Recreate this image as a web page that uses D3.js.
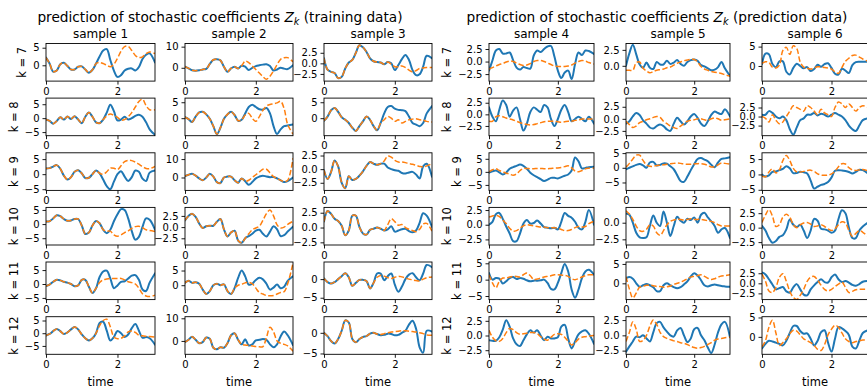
<!DOCTYPE html>
<html><head><meta charset="utf-8">
<script src="https://cdn.jsdelivr.net/npm/d3@7"></script>
<style>
body{margin:0;background:#fff}
svg{display:block}
text{font-family:"DejaVu Sans",sans-serif;fill:#000}
</style>
</head><body>
<svg id="chart" width="867" height="388"></svg>
<script>
// ---------------- DATA ----------------
const time = [0,0.1,0.2,0.3,0.4,0.5,0.6,0.7,0.8,0.9,1.0,1.1,1.2,1.3,1.4,1.5,1.6,1.7,1.8,1.9,2.0,2.1,2.2,2.3,2.4,2.5,2.6,2.7,2.8,2.9,3.05];
const timeLimits = [0, 3.05];
const xTicks = [0, 2];
const sampleNames = ["sample 1","sample 2","sample 3","sample 4","sample 5","sample 6"];
const kValues = [7,8,9,10,11,12];
const groupTitles = ["training data","prediction data"];

// true (blue) and predicted (orange) coefficient series, per k, samples 1..6
const blueK7 = [
 [2.2,0.5,-1.8,-1.5,0.3,0.7,-0.2,-1.2,-1.2,-0.4,-0.3,-1.2,-2.1,-1.3,0.5,2.5,4.2,4.6,1.5,-1.5,-3.3,-2.8,-1.5,-1.0,-0.9,-1.5,-0.5,1.8,3.0,3.4,0.8],
 [0.5,-0.3,-1.2,-1.4,-1.2,-0.8,-0.5,1.8,3.8,4.0,3.5,0.5,-1.9,-0.3,0.5,-0.3,1.0,0.5,-1.0,0.0,0.8,1.2,1.5,1.7,0.8,-1.3,-0.8,0.0,-0.4,-0.6,1.2],
 [1.2,-1.5,-2.0,-2.3,-3.5,-3.2,-1.2,0.2,0.8,2.5,4.3,3.8,2.7,1.2,0.5,0.3,0.2,-0.2,0.3,0.0,-1.6,-0.4,1.0,2.0,0.8,-1.6,-2.8,-2.6,-0.8,1.8,1.2],
 [-1.8,0.2,2.2,2.5,1.6,1.6,1.8,0.3,-1.2,-1.6,-1.1,-1.3,-1.4,1.2,2.2,1.9,2.5,3.0,3.1,1.0,-1.8,-3.3,-2.2,-1.8,-3.5,-0.5,1.8,1.3,2.2,2.1,1.5],
 [0.0,2.0,3.3,1.8,0.2,-0.3,0.5,-0.3,-0.5,0.6,0.2,0.2,0.8,0.3,0.5,0.9,0.3,0.0,0.6,0.9,1.0,0.8,0.1,-0.1,-0.4,-0.7,-0.6,-0.2,0.6,-0.4,-1.6],
 [0.5,3.2,3.0,0.5,-0.3,1.2,1.2,-1.5,-2.2,-0.5,0.6,0.0,-0.6,-0.3,-1.3,-0.8,0.3,-0.2,0.5,0.7,-0.5,-2.0,-2.2,-0.7,-1.2,-1.8,0.2,1.0,1.1,1.1,1.1]
];
const orangeK7 = [
 [2.2,0.5,-1.8,-1.5,0.3,0.7,-0.2,-1.2,-1.2,-0.4,-0.3,-1.2,-2.1,-1.3,0.5,0.8,0.5,0.0,-0.4,0.3,2.0,4.0,5.3,5.4,4.2,2.8,2.2,2.4,3.3,3.8,3.3],
 [0.5,-0.3,-1.2,-1.4,-1.2,-0.8,-0.5,1.8,3.8,4.0,3.5,0.5,-1.9,-0.3,0.5,-0.3,1.0,3.2,2.5,0.8,-0.8,-2.5,-4.2,-5.4,-4.0,-1.5,1.5,4.0,4.8,4.8,2.9],
 [1.2,-1.5,-2.0,-2.3,-3.5,-3.2,-1.2,0.2,0.8,2.5,4.3,3.8,2.7,1.2,0.5,0.3,0.2,-0.2,0.3,-0.2,-0.8,-0.8,-0.6,-1.0,-1.6,-2.0,-1.7,-1.2,-1.1,-1.0,-1.0],
 [-1.5,-1.2,-0.9,-0.6,-0.4,-0.1,0.1,0.0,-0.3,-0.6,-0.8,-0.7,-0.4,0.0,0.2,0.2,0.0,-0.3,-0.6,-0.9,-1.0,-1.0,-1.0,-0.9,-0.7,-0.3,0.0,0.2,0.1,-0.2,-0.5],
 [-0.7,-0.7,-0.7,0.5,0.6,-0.4,-0.8,-1.1,-0.9,-0.7,-0.6,-0.5,-0.3,-0.2,0.1,0.4,0.6,0.8,0.9,1.0,1.0,0.6,-0.1,-0.5,-0.7,-0.9,-1.0,-1.1,-1.2,-1.4,-1.6],
 [0.7,1.1,0.9,-0.3,-0.5,0.2,4.0,4.8,3.0,5.2,4.5,1.0,-0.3,-0.6,-0.8,-0.5,-0.2,-0.2,-0.4,-0.5,-0.8,-1.5,-1.9,-0.4,1.2,2.0,2.7,2.8,2.3,1.8,1.2]
];
const blueK8 = [
 [-0.5,-1.0,-2.0,-1.0,0.3,-0.5,0.6,-0.3,0.7,-0.5,-1.8,0.5,2.0,0.5,-1.5,-1.8,-0.5,2.0,4.8,2.5,-0.8,-0.5,0.5,-0.5,0.0,0.8,1.2,0.5,-1.5,-4.0,-6.0],
 [0.3,-0.3,-1.2,0.5,1.8,2.0,1.2,-0.2,-2.5,-5.0,-3.0,-0.2,1.2,2.0,1.0,-0.8,-0.5,1.5,3.5,4.2,3.5,2.8,2.7,3.2,1.5,-2.5,-5.0,-3.5,-2.5,-2.3,-2.0],
 [-0.8,0.5,2.5,3.2,2.0,0.3,-0.5,-1.5,-3.0,-4.0,-2.5,-1.0,0.5,-0.5,-2.5,-3.8,-1.5,1.5,3.5,3.8,3.0,2.6,2.5,2.2,0.5,-1.5,-2.0,-2.5,-1.5,1.5,3.8],
 [1.5,-0.5,-1.5,1.0,3.0,2.0,-0.5,0.8,1.5,-1.0,-3.5,-2.0,0.5,1.5,1.0,0.5,2.0,1.5,-1.0,-2.5,-1.0,1.0,2.0,0.5,-1.5,-1.0,-0.5,-1.0,-1.5,-0.5,-2.0],
 [-1.0,-0.5,0.5,1.2,0.8,-0.3,-1.0,-1.8,-2.0,-1.5,-1.2,-1.5,-2.2,-2.5,-1.0,0.2,-0.5,-1.2,-0.5,0.5,1.0,0.2,-1.0,-1.5,-0.5,0.8,1.5,1.2,1.0,2.0,0.5],
 [0.5,0.5,1.5,1.0,0.0,-0.5,0.0,-1.0,-3.5,-5.0,-3.0,-1.0,-0.5,0.5,0.5,1.0,0.3,0.8,0.5,0.0,0.5,1.0,0.5,0.0,-1.0,-2.5,-3.5,-4.0,-2.5,-1.0,-0.5]
];
const orangeK8 = [
 [-0.5,-1.0,-2.0,-1.0,0.3,-0.5,0.6,-0.3,0.7,-0.5,-1.8,0.5,2.0,0.5,-1.5,-1.8,-0.5,0.8,1.5,1.0,0.3,-0.7,-0.5,0.5,2.0,4.0,6.0,6.8,4.5,3.0,3.0],
 [0.3,-0.3,-1.2,0.5,1.8,2.0,1.2,-0.2,-2.5,-5.0,-3.0,-0.2,1.2,2.0,1.0,-0.8,-0.5,1.0,1.5,0.0,-1.0,0.5,2.5,3.8,4.3,4.5,4.8,5.3,3.0,-2.0,-5.0],
 [-0.8,0.5,2.5,3.2,2.0,0.3,-0.5,-1.5,-3.0,-4.0,-2.5,-1.0,0.5,-0.5,-2.5,-3.8,-1.5,-0.5,0.5,0.0,-1.0,-0.5,-1.5,-1.0,-0.5,-0.3,-0.2,-0.5,-0.6,-1.0,-1.2],
 [-1.5,-1.5,-0.5,-0.3,-0.5,-0.8,-1.0,-1.2,-1.5,-1.8,-2.0,-2.2,-2.3,-2.2,-2.0,-1.8,-1.6,-1.5,-1.5,-1.5,-1.6,-1.7,-1.6,-1.5,-1.5,-1.3,-1.2,-1.0,-1.0,-1.0,-1.0],
 [-0.5,-1.2,-1.8,-1.5,-0.8,-0.5,-0.2,0.0,0.3,0.5,0.3,-0.5,-1.0,-1.5,-1.8,-2.0,-1.5,-1.0,-0.5,-0.3,-0.2,0.0,0.0,-0.2,-0.3,0.0,0.2,0.0,-0.3,-0.2,0.0],
 [0.0,-0.5,-1.5,0.5,-1.0,-2.0,-1.5,0.0,1.5,3.0,2.5,2.0,1.5,3.0,2.5,1.5,0.5,2.0,1.0,0.5,0.0,2.5,4.0,3.5,2.5,3.5,2.5,1.5,2.5,3.0,2.5]
];
const blueK9 = [
 [1.9,2.0,2.5,3.0,1.8,-0.5,-1.8,-1.0,0.8,1.3,0.3,-1.3,-1.2,0.0,1.2,0.3,-1.8,-4.0,-5.0,-2.5,0.0,1.0,-0.8,-2.3,-1.0,1.2,0.8,-1.5,-2.3,0.5,1.2],
 [0.8,1.5,2.0,1.0,-0.5,-1.5,0.0,2.0,0.5,-2.5,-3.0,0.0,0.5,0.5,-1.5,-2.8,-0.5,-2.0,-4.0,-2.5,-0.5,0.5,1.0,0.5,0.2,0.3,-0.5,-1.5,-2.5,-2.0,0.0],
 [-0.2,-1.8,-0.5,1.6,0.5,-2.5,-3.5,-1.3,-2.0,-1.8,-1.2,-0.4,0.6,1.3,1.0,0.8,1.0,1.0,0.3,0.0,-0.2,-0.3,-0.7,-0.8,-0.6,-0.5,-1.0,-1.7,0.5,1.0,-1.4],
 [-0.3,0.2,0.5,-0.2,-1.0,-0.3,1.2,1.8,2.3,2.8,2.3,1.2,-0.3,-1.3,-2.0,-2.8,-3.5,-3.0,-2.3,-2.3,-2.5,-2.0,-1.5,-1.0,0.5,5.5,4.0,1.3,1.5,1.8,2.0],
 [-0.5,0.0,0.5,1.0,1.3,0.8,0.0,1.8,2.0,0.8,1.0,1.5,1.4,0.5,-0.5,-2.5,-4.5,-4.8,-3.0,-0.8,1.2,3.0,3.3,2.8,2.2,1.0,0.2,1.8,3.0,3.2,3.6],
 [0.0,-0.7,-0.3,0.8,1.0,1.4,1.8,2.7,2.0,0.4,0.5,0.9,0.7,0.3,-2.0,-4.6,-4.0,-3.4,-3.1,-2.5,-1.0,1.2,1.4,1.3,1.1,0.8,0.3,0.8,1.5,1.4,0.3]
];
const orangeK9 = [
 [1.9,2.0,2.5,3.0,1.8,-0.5,-1.8,-1.0,0.8,1.3,0.3,-1.3,-1.2,0.0,1.2,0.3,0.0,0.8,2.0,2.0,1.5,2.8,4.2,4.6,4.5,4.0,3.3,2.5,1.9,1.8,2.6],
 [0.8,1.5,2.0,1.0,-0.5,-1.5,0.0,2.0,0.5,-2.5,-3.0,0.0,0.5,0.5,-1.5,-2.8,-0.5,-2.0,-1.5,0.0,1.5,3.0,4.5,4.5,2.5,0.5,-0.5,-1.5,-2.2,-1.5,10.5],
 [-0.2,-1.8,-0.5,1.6,0.5,-2.5,-3.5,-1.3,-2.0,-1.8,-1.2,-0.4,0.6,1.3,1.0,0.8,1.0,1.5,2.4,2.2,1.6,1.3,1.3,1.2,1.0,0.9,0.7,0.5,0.4,0.6,1.0],
 [0.0,0.8,1.2,0.5,0.0,-0.5,-0.8,-1.3,-0.8,0.5,1.3,1.3,1.2,1.2,1.3,1.3,1.2,1.2,1.3,1.4,1.5,1.7,2.0,2.3,1.5,0.3,0.0,0.5,1.2,1.4,1.5],
 [0.2,1.5,3.0,4.3,4.3,2.5,1.0,0.5,0.5,0.8,0.9,1.0,1.2,1.4,1.5,1.6,1.5,1.3,1.2,1.2,1.3,1.4,1.4,1.2,0.8,0.3,0.4,1.0,1.6,1.5,1.2],
 [-0.5,-0.8,0.8,1.8,0.5,1.5,4.5,6.2,4.5,2.0,0.8,0.8,1.0,1.3,1.4,1.0,0.2,-0.2,-0.3,-0.2,0.2,1.0,2.5,3.5,3.4,2.2,1.5,1.3,1.5,1.6,1.2]
];
const blueK10 = [
 [0.9,1.0,2.0,3.1,2.8,1.8,1.2,1.3,1.8,1.8,-0.5,-3.5,-3.0,-0.5,1.1,0.3,-2.0,-3.2,-2.0,1.0,3.5,5.3,5.0,2.0,-2.5,-5.5,-4.5,-1.0,2.0,1.5,-2.0],
 [1.5,2.5,3.0,2.3,0.8,-0.2,0.2,0.3,0.3,1.2,1.8,-0.5,-2.1,-1.2,-0.8,-3.0,-3.5,-2.5,-2.0,-1.5,-0.8,-0.6,-1.5,-2.1,-1.0,0.2,-0.5,-2.0,-1.8,-1.0,0.1],
 [1.0,2.8,2.3,1.5,1.1,0.3,-1.3,-0.5,2.0,2.0,0.1,-1.0,-1.2,-0.4,-0.2,0.0,-0.2,-0.5,-0.3,0.2,-0.7,-0.5,-0.3,-0.2,-0.6,-0.8,-0.5,0.8,2.4,2.0,0.1],
 [0.0,0.5,1.8,2.0,1.0,-0.3,-1.5,-2.8,-2.8,-1.5,0.2,0.8,0.2,0.3,0.7,0.2,-0.4,-0.5,-0.6,-0.5,-0.8,0.5,2.0,1.5,1.2,0.5,-0.5,-0.8,0.5,2.5,0.0],
 [1.4,1.2,0.0,-1.5,-2.2,-2.3,-2.2,-0.5,1.1,0.0,-0.5,1.7,0.0,-2.0,-0.5,0.9,0.3,0.0,0.6,0.4,0.8,0.0,1.2,1.5,0.8,0.2,-0.5,-1.5,-1.0,-0.8,-2.3],
 [0.3,-0.5,-1.8,-2.6,-2.3,-1.6,-1.3,-0.3,1.4,0.5,0.1,0.5,-0.5,-1.8,-0.5,1.5,1.2,-0.2,-0.3,-0.5,-0.9,-0.5,1.5,3.0,2.5,0.0,-1.8,-1.8,-0.5,0.2,0.9]
];
const orangeK10 = [
 [0.9,1.0,2.0,3.1,2.8,1.8,1.2,1.3,1.8,1.8,-0.5,-3.5,-3.0,-0.5,1.1,0.3,-2.0,-2.5,-2.5,-3.8,-4.3,-3.8,-3.0,-2.4,-1.5,-0.9,-0.8,-1.3,-2.0,-2.3,-2.6],
 [1.5,2.5,3.0,2.3,0.8,-0.2,0.2,0.3,0.3,1.2,1.8,-0.5,-2.1,-1.2,-0.8,-3.0,-3.5,-2.5,-1.5,-0.6,-0.2,0.2,1.5,3.0,3.8,2.5,0.5,-0.2,0.0,0.6,1.3],
 [1.0,2.8,2.3,1.5,1.1,0.3,-1.3,-0.5,2.0,2.0,0.1,-1.0,-1.2,-0.4,-0.2,0.0,-0.2,-0.5,0.5,1.5,1.0,0.4,0.5,0.0,-0.3,-0.5,-0.7,-0.3,0.6,0.7,-0.6],
 [1.3,1.5,1.6,1.4,0.8,0.2,-0.6,-1.1,-1.0,-0.6,-0.2,0.0,-0.1,-0.2,-0.3,-0.4,-0.4,-0.5,-0.5,-0.5,-0.6,-0.8,-1.0,-1.0,-0.8,-0.5,-0.3,-0.4,-0.3,0.2,0.6],
 [1.8,1.3,0.5,-0.5,-1.2,-1.3,-1.0,-0.3,-0.5,-1.5,-1.9,-1.2,-0.3,0.2,0.4,0.5,0.5,0.4,0.5,0.6,0.5,0.5,0.5,0.4,0.3,0.2,0.0,-0.3,-0.5,-0.5,-0.5],
 [0.9,2.2,3.1,2.0,0.2,0.5,1.8,2.3,1.8,0.5,0.0,0.5,0.8,0.9,0.6,0.2,0.3,0.5,0.2,-0.2,-0.5,-0.2,0.5,1.0,0.8,-0.5,-1.5,-1.0,-0.5,-0.8,-1.5]
];
const blueK11 = [
 [-0.7,-0.2,0.8,1.5,1.3,0.8,0.5,0.0,-0.8,-0.5,1.5,1.5,-1.0,-3.2,-1.5,2.5,4.5,4.8,2.0,-1.5,-0.5,0.8,1.0,2.0,3.0,3.2,1.5,-2.0,-2.5,0.5,3.8],
 [0.8,1.5,0.8,1.0,0.5,-1.5,-3.0,-2.0,0.0,0.5,0.0,0.3,-2.0,-3.0,-1.0,2.5,5.0,3.0,0.2,0.5,1.8,2.5,2.0,0.5,-1.5,-0.8,0.2,-1.0,-0.5,1.5,3.0],
 [0.2,-0.8,-1.2,-0.8,0.0,0.8,1.6,0.5,-1.8,-1.0,-0.2,-0.2,-0.5,-2.5,-1.0,1.5,1.5,-0.3,0.8,1.5,-1.5,-3.4,-2.0,0.0,1.2,1.6,0.5,-0.3,1.5,3.8,3.2],
 [2.0,0.0,0.5,0.3,-1.2,-0.5,0.5,0.8,0.2,0.5,0.3,-0.2,-0.5,-0.3,-0.3,-0.2,0.0,-1.0,-2.8,-3.0,-1.0,2.0,4.8,2.5,-3.0,-5.5,-3.0,0.5,2.5,3.0,1.5],
 [1.3,1.6,1.2,0.0,-0.9,-0.5,-0.2,-0.5,-1.0,-2.0,-2.0,-0.5,0.0,-0.5,-1.0,-1.3,-1.0,-0.3,0.5,1.8,2.6,2.0,0.8,-0.5,-0.8,-0.5,-0.3,-0.5,-0.7,-0.8,-0.9],
 [2.7,2.2,1.0,-0.3,-1.5,-1.2,-0.9,-2.0,-2.3,-1.0,-0.2,-1.5,-2.8,-3.0,-1.5,-0.5,0.3,1.0,0.3,0.2,1.5,2.2,1.0,0.3,0.6,0.2,-0.4,-0.6,-0.2,0.4,0.6]
];
const orangeK11 = [
 [-0.7,-0.2,0.8,1.5,1.3,0.8,0.5,0.0,-0.8,-0.5,1.5,1.5,-1.0,-3.2,-1.5,0.5,1.5,1.8,2.0,2.0,2.0,2.0,1.5,0.8,0.5,0.0,-1.5,-3.5,-4.3,-4.5,-4.0],
 [0.8,1.5,0.8,1.0,0.5,-1.5,-3.0,-2.0,0.0,0.5,0.0,0.3,-2.0,-3.0,-1.0,0.0,0.3,0.8,1.0,0.5,-1.0,-2.5,-3.0,-3.5,-3.6,-3.5,-3.0,-2.5,-2.2,0.5,7.5],
 [0.2,-0.8,-1.2,-0.8,0.0,0.8,1.6,0.5,-1.8,-1.0,-0.2,-0.2,-0.5,-2.5,-1.0,0.5,1.0,0.8,0.4,0.2,0.5,0.8,0.6,0.3,0.0,-0.2,-0.4,-0.5,0.0,0.4,0.6],
 [1.5,-1.0,-2.5,-0.5,0.5,0.5,0.8,1.0,1.0,0.8,1.5,2.0,1.2,0.0,0.2,0.5,0.8,1.0,1.2,1.5,1.5,1.4,1.3,1.0,0.3,0.0,0.3,0.8,1.2,1.5,1.5],
 [1.7,-1.5,-3.8,-2.5,-1.0,-0.8,-0.5,-0.5,-0.6,-0.8,-0.8,-1.0,-0.9,-0.7,-0.3,0.0,0.3,0.7,1.2,1.6,1.8,2.0,2.2,1.8,1.3,1.0,1.2,1.6,1.9,2.0,2.2],
 [2.3,0.5,-1.9,-2.3,-1.0,1.5,2.4,0.5,-2.0,-3.5,-4.0,-3.0,-1.5,0.5,1.5,1.7,0.8,-0.5,-1.5,-1.9,-1.5,-0.8,-0.2,0.3,-1.0,-2.3,-2.0,-1.6,-1.5,-1.5,-1.5]
];
const blueK12 = [
 [-0.9,-0.3,0.8,1.7,0.8,-0.3,0.3,1.5,2.4,1.5,-0.5,-2.0,-2.9,-2.0,0.0,4.0,4.5,1.0,-2.9,-1.5,0.9,0.0,-1.5,-0.5,2.0,3.6,1.0,-1.8,-1.5,-2.0,-4.5],
 [-0.5,0.5,1.9,0.5,-1.0,-0.5,1.5,1.0,-3.0,-3.7,-2.8,-3.0,-1.0,2.5,3.4,0.5,-1.5,0.7,-2.0,-1.5,0.3,0.5,0.8,0.5,-1.5,-2.8,-1.5,2.0,4.2,2.5,-1.8],
 [0.0,-0.8,-2.0,-2.6,-1.5,0.5,3.0,2.5,-1.5,-2.3,-1.5,-1.0,-0.8,-0.2,0.0,-0.3,-0.6,-0.5,-0.2,-0.3,-0.6,-0.5,0.0,0.5,2.0,2.9,1.0,-3.5,-4.8,0.5,0.3],
 [-0.8,-0.9,-0.9,-0.3,1.0,2.6,1.5,-0.5,-1.5,-1.8,-0.8,0.2,0.9,0.5,0.9,0.0,-0.8,-0.2,-0.5,-0.5,-0.3,1.5,1.8,-0.5,-2.2,-1.0,0.2,0.7,0.9,0.3,-1.4],
 [-2.7,-1.8,-1.0,-0.2,-0.3,0.0,-0.5,-1.0,0.5,2.0,2.2,1.3,0.6,0.0,-0.2,0.8,1.2,0.0,-1.1,-0.5,1.0,1.2,0.0,-0.8,-2.0,-2.9,-1.5,0.5,1.8,2.2,-0.3],
 [-3.0,-1.8,-1.0,-1.2,-1.5,-1.8,-2.2,-1.0,1.0,2.8,2.8,1.5,0.8,0.9,-0.5,-2.2,-1.0,1.2,1.7,-1.5,-3.8,-0.5,2.5,2.2,1.5,0.5,-2.5,-3.0,-1.0,1.0,1.7]
];
const orangeK12 = [
 [-0.9,-0.3,0.8,1.7,0.8,-0.3,0.3,1.5,2.4,1.5,-0.5,-2.0,-2.9,-2.0,0.0,3.0,5.0,5.5,2.5,-1.5,-2.2,-2.0,-1.0,0.5,0.9,0.3,-0.8,-1.0,-1.2,-1.3,-1.5],
 [-0.5,0.5,1.9,0.5,-1.0,-0.5,1.5,1.0,-3.0,-3.7,-2.8,-3.0,-1.0,2.5,3.4,0.5,-1.5,-1.8,-2.0,-2.2,-2.5,-2.6,-2.5,1.5,6.0,4.0,0.0,-1.0,-1.5,-2.2,-4.5],
 [0.0,-0.8,-2.0,-2.6,-1.5,0.5,3.0,2.5,-1.5,-2.3,-1.5,-1.0,-0.8,-0.2,0.0,-0.3,-0.4,-0.2,0.0,0.2,0.3,0.4,0.5,0.5,0.4,0.3,0.2,0.0,-0.2,-0.5,-0.6],
 [0.9,-0.3,-0.9,-1.0,-0.5,0.5,1.2,1.0,0.5,0.2,0.3,0.4,0.5,0.5,0.3,-0.2,-0.6,-0.8,-0.3,0.2,0.3,0.2,-0.3,-1.0,-1.6,-1.2,-0.6,-0.3,-0.2,-0.1,0.0],
 [-1.0,0.5,2.2,1.0,-1.0,-0.8,0.0,1.5,2.5,1.8,0.5,-0.2,-0.5,-0.7,-0.9,-1.0,-1.2,-1.3,-1.5,-1.8,-2.0,-2.1,-2.0,-1.8,-1.5,-1.2,-0.8,-0.6,-0.5,-0.4,-0.3],
 [-2.6,-1.0,2.5,4.3,1.0,-2.2,-1.5,-0.5,0.8,1.7,1.5,0.5,-0.5,-1.0,-1.5,-2.2,-3.2,-3.5,-2.0,0.5,2.0,3.0,2.5,1.0,-0.5,-1.2,-1.5,-1.2,-1.0,-0.8,-0.9]
];

// y-axis limits and tick values per panel (samples 1..6)
const yLimK7  = [[-4.5,6.2],[-6.3,11.5],[-4.2,4.7],[-3.9,3.6],[-2.4,3.5],[-3.9,5.8]];
const yLimK8  = [[-6.3,7.2],[-5.5,6.3],[-5.5,6.3],[-4.6,3.5],[-3.5,4.3],[-5.3,5.1]];
const yLimK9  = [[-5.4,7.1],[-7.0,13.4],[-3.9,3.0],[-7.1,7.3],[-7.7,5.1],[-5.2,7.05]];
const yLimK10 = [[-7.4,5.9],[-4.0,4.4],[-2.95,3.4],[-3.45,2.95],[-3.35,2.3],[-3.0,3.5]];
const yLimK11 = [[-5.6,7.9],[-4.9,7.9],[-5.5,4.6],[-6.1,5.4],[-4.2,5.5],[-4.05,5.3]];
const yLimK12 = [[-8.3,6.5],[-5.9,10.7],[-5.2,3.9],[-3.2,3.2],[-3.1,3.05],[-4.5,5.2]];

const yTicksK7  = [[0,5],[0,10],[-2.5,0,2.5],[-2.5,0,2.5],[0,2.5],[0,5]];
const yTicksK8  = [[-5,0,5],[0,5],[0,5],[-2.5,0,2.5],[-2.5,0,2.5],[-2.5,0,2.5]];
const yTicksK9  = [[-5,0,5],[0,10],[-2.5,0,2.5],[-5,0,5],[-5,0,5],[-5,0,5]];
const yTicksK10 = [[-5,0,5],[-2.5,0,2.5],[-2.5,0,2.5],[-2.5,0,2.5],[-2.5,0],[-2.5,0,2.5]];
const yTicksK11 = [[-5,0,5],[0,5],[-5,0],[-5,0,5],[0,5],[-2.5,0,2.5]];
const yTicksK12 = [[-5,0,5],[0,10],[-5,0],[-2.5,0,2.5],[-2.5,0,2.5],[0,5]];

// ---------------- LAYOUT ----------------
const rows = [
  {k:kValues[0], blue:blueK7,  orange:orangeK7,  lim:yLimK7,  ticks:yTicksK7},
  {k:kValues[1], blue:blueK8,  orange:orangeK8,  lim:yLimK8,  ticks:yTicksK8},
  {k:kValues[2], blue:blueK9,  orange:orangeK9,  lim:yLimK9,  ticks:yTicksK9},
  {k:kValues[3], blue:blueK10, orange:orangeK10, lim:yLimK10, ticks:yTicksK10},
  {k:kValues[4], blue:blueK11, orange:orangeK11, lim:yLimK11, ticks:yTicksK11},
  {k:kValues[5], blue:blueK12, orange:orangeK12, lim:yLimK12, ticks:yTicksK12}
];
const colX = [46,185,324,489,626,762];
const colW = [109,108,108,105,104,106];
const rowY = [43.5,98.1,152.8,207.4,262,316.7];
const rowH = 37.6;
const BLUE = "#1f77b4", ORANGE = "#ff7f0e";
const tickFS = 10, labelFS = 11.5;

const svg = d3.select("#chart");
svg.append("rect").attr("width",867).attr("height",388).attr("fill","#fff");

function fmt(ticks){
  const dec = ticks.some(v => Math.round(v) !== v);
  return v => (dec ? v.toFixed(1) : String(Math.round(v))).replace("-", "\u2212");
}

let clipId = 0;
rows.forEach((row, r) => {
  for (let c = 0; c < 6; c++) {
    const x0 = colX[c], y0 = rowY[r], w = colW[c], h = rowH;
    const g = svg.append("g").attr("transform", `translate(${x0},${y0})`);
    const x = d3.scaleLinear().domain(timeLimits).range([0, w]);
    const y = d3.scaleLinear().domain(row.lim[c]).range([h, 0]);
    const id = "clip" + (clipId++);
    g.append("clipPath").attr("id", id).append("rect").attr("width", w).attr("height", h);
    const line = d3.line().x((d,i) => x(time[i])).y(d => y(d)).curve(d3.curveCatmullRom.alpha(0.5));
    const lg = g.append("g").attr("clip-path", `url(#${id})`);
    lg.append("path").datum(row.blue[c]).attr("d", line)
      .attr("fill","none").attr("stroke",BLUE).attr("stroke-width",2).attr("stroke-linejoin","round").attr("stroke-linecap","round");
    lg.append("path").datum(row.orange[c]).attr("d", line)
      .attr("fill","none").attr("stroke",ORANGE).attr("stroke-width",1.5).attr("stroke-dasharray","5.5,2.4");

    // axes
    const ya = g.append("g").call(d3.axisLeft(y).tickValues(row.ticks[c]).tickFormat(fmt(row.ticks[c])).tickSize(3.5).tickPadding(3));
    const xa = g.append("g").attr("transform", `translate(0,${h})`)
      .call(d3.axisBottom(x).tickValues(xTicks).tickFormat(d3.format("d")).tickSize(3.5).tickPadding(3));
    [ya, xa].forEach(a => {
      a.select(".domain").remove();
      a.attr("font-family", null).attr("font-size", null);
      a.selectAll("line").attr("stroke","#000").attr("stroke-width",0.9);
      a.selectAll("text").attr("font-size", tickFS).attr("fill","#000");
    });
    g.append("rect").attr("width", w).attr("height", h).attr("fill","none").attr("stroke","#000").attr("stroke-width",0.9);

    if (r === 0) {
      g.append("text").attr("x", w/2).attr("y", -6).attr("text-anchor","middle")
        .attr("font-size", 12).text(sampleNames[c]);
    }
    if (r === rows.length - 1) {
      g.append("text").attr("x", w/2).attr("y", h + 32).attr("text-anchor","middle")
        .attr("font-size", labelFS).text("time");
    }
    if (c === 0 || c === 3) {
      let maxW = 0;
      ya.selectAll("text").each(function(){ maxW = Math.max(maxW, this.getBBox().width); });
      const lx = -3.5 - 3 - maxW - 4 - labelFS * 0.24;
      g.append("text").attr("transform", `translate(${lx},${h/2}) rotate(-90)`)
        .attr("text-anchor","middle").attr("font-size", labelFS).text(`k = ${row.k}`);
    }
  }
});

// group titles
[[220, groupTitles[0]], [657, groupTitles[1]]].forEach(([cx, label]) => {
  const t = svg.append("text").attr("x", cx).attr("y", 22).attr("text-anchor","middle").attr("font-size", 13.7);
  t.append("tspan").text("prediction of stochastic coefficients ");
  t.append("tspan").attr("font-style","italic").text("Z");
  t.append("tspan").attr("font-style","italic").attr("font-size", 9.6).attr("dy", 3).text("k");
  t.append("tspan").attr("dy", -3).text(` (${label})`);
});
</script>
</body></html>
